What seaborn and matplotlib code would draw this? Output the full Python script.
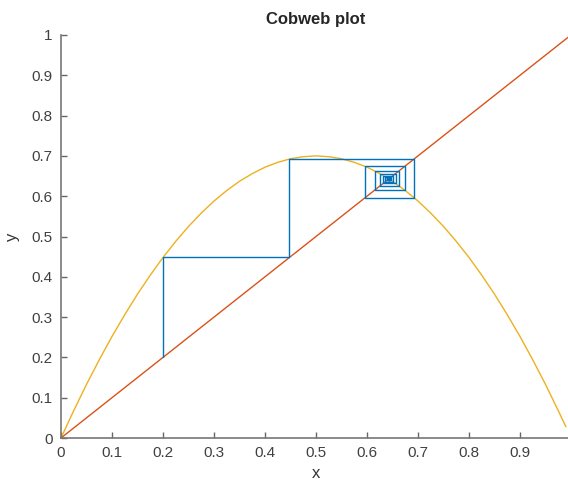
import matplotlib
matplotlib.use("Agg")
import matplotlib.pyplot as plt
import seaborn as sns
import pandas as pd

# Parabola (map)
curve_x = [0.0, 0.025, 0.05, 0.075, 0.1, 0.125, 0.15, 0.175, 0.2, 0.225, 0.25, 0.275, 0.3, 0.325, 0.35,
           0.375, 0.4, 0.425, 0.45, 0.475, 0.5, 0.525, 0.55, 0.575, 0.6, 0.625, 0.65, 0.675, 0.7, 0.725,
           0.75, 0.775, 0.8, 0.825, 0.85, 0.875, 0.9, 0.925, 0.95, 0.975, 0.99]
curve_y = [0.0, 0.068, 0.133, 0.194, 0.252, 0.306, 0.357, 0.404, 0.448, 0.488, 0.525, 0.558, 0.588, 0.614, 0.637,
           0.656, 0.672, 0.684, 0.693, 0.698, 0.700, 0.698, 0.693, 0.684, 0.672, 0.656, 0.637, 0.614, 0.588, 0.558,
           0.525, 0.488, 0.448, 0.404, 0.357, 0.306, 0.252, 0.194, 0.133, 0.068, 0.028]
# Diagonal y = x
diag_x = [0.0, 1.0]
diag_y = [0.0, 1.0]
# Cobweb iterates
iterates = [0.2, 0.448, 0.692, 0.596, 0.674, 0.615, 0.663, 0.626, 0.656, 0.632, 0.651, 0.636,
            0.648, 0.639, 0.646, 0.640, 0.645, 0.641, 0.644, 0.642, 0.6435, 0.6425, 0.643]

web_x, web_y = [iterates[0]], [iterates[0]]
for a, b in zip(iterates[:-1], iterates[1:]):
    web_x += [a, b]
    web_y += [b, b]

blue, orange, yellow = "#0072BD", "#D95319", "#EDB120"

sns.set_style("white")
plt.rcParams["font.family"] = ["Liberation Sans", "DejaVu Sans"]
fig = plt.figure(figsize=(5.68, 4.82), dpi=100)
ax = fig.add_axes([61/568, 44/482, 510/568, 403/482])

kw = dict(x="x", y="y", ax=ax, lw=1.0, sort=False, estimator=None)
sns.lineplot(data=pd.DataFrame({"x": curve_x, "y": curve_y}), color=yellow, **kw)
sns.lineplot(data=pd.DataFrame({"x": diag_x, "y": diag_y}), color=orange, **kw)
sns.lineplot(data=pd.DataFrame({"x": web_x, "y": web_y}), color=blue, **kw)

ticks = [i / 10 for i in range(11)]
labels = ["0", "0.1", "0.2", "0.3", "0.4", "0.5", "0.6", "0.7", "0.8", "0.9", "1"]
ax.set_xlim(0, 1)
ax.set_ylim(0, 1)
ax.set_xticks(ticks)
ax.set_yticks(ticks)
ax.set_xticklabels(labels)
ax.set_yticklabels(labels)
ax.tick_params(bottom=True, left=True, direction="in", length=4, width=1, colors="#666666",
               labelsize=11, labelcolor="#404040", pad=6)
for s in ["top", "right"]:
    ax.spines[s].set_visible(False)
for s in ["left", "bottom"]:
    ax.spines[s].set_color("#777777")
    ax.spines[s].set_linewidth(1.2)
ax.set_xlabel("x", fontsize=12, color="#333333", labelpad=4)
ax.set_ylabel("y", fontsize=12, color="#333333", labelpad=8)
ax.set_title("Cobweb plot", fontsize=12, fontweight="bold", pad=8)

fig.savefig("out.png", dpi=100)
